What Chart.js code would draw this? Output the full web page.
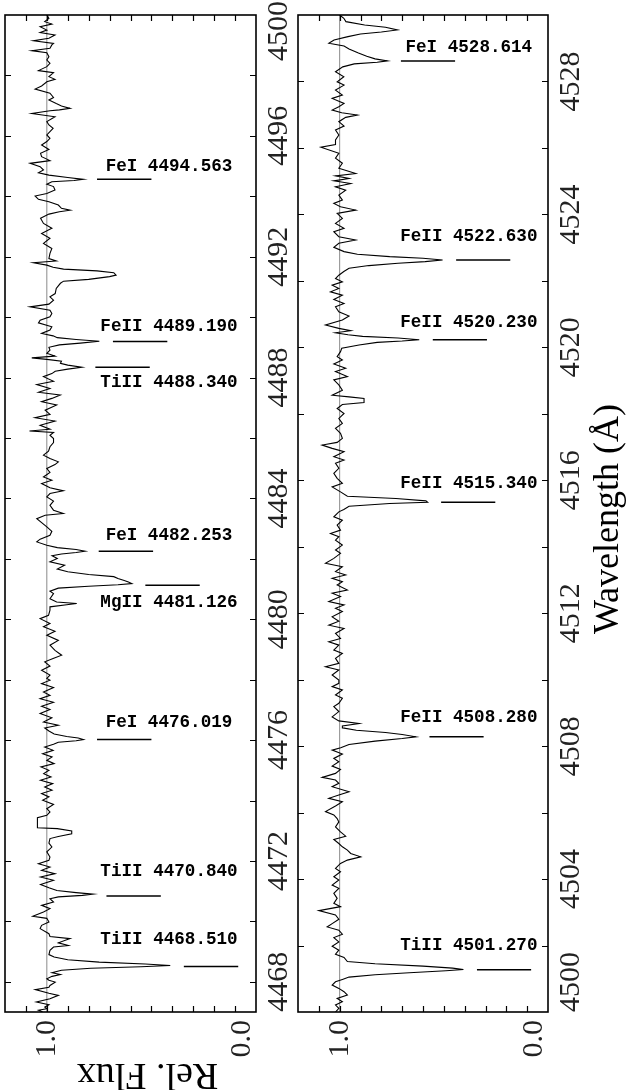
<!DOCTYPE html>
<html>
<head>
<meta charset="utf-8">
<script src="https://cdn.jsdelivr.net/npm/chart.js@4.4.1/dist/chart.umd.min.js"></script>
<style>
  html, body { margin: 0; padding: 0; background: #fff; }
  #wrap { position: relative; width: 627px; height: 1090px; }
  canvas { position: absolute; left: 0; top: 0; }
</style>
</head>
<body>
<div id="wrap">
  <canvas id="panelA" width="627" height="1090"></canvas>
  <canvas id="panelB" width="627" height="1090"></canvas>
</div>
<script>
// left panel: 4467 - 4500 A
const wavesA = [
  4467.00, 4467.06, 4467.11, 4467.16, 4467.24, 4467.33, 4467.44, 4467.55, 4467.62, 4467.74,
  4467.82, 4467.88, 4467.99, 4468.05, 4468.10, 4468.18, 4468.24, 4468.30, 4468.38, 4468.45,
  4468.50, 4468.54, 4468.59, 4468.65, 4468.73, 4468.82, 4468.90, 4469.04, 4469.15, 4469.20,
  4469.29, 4469.43, 4469.50, 4469.59, 4469.76, 4469.87, 4469.98, 4470.10, 4470.17, 4470.31,
  4470.42, 4470.53, 4470.64, 4470.75, 4470.81, 4470.86, 4470.90, 4470.95, 4471.02, 4471.11,
  4471.22, 4471.36, 4471.47, 4471.58, 4471.69, 4471.80, 4471.91, 4472.02, 4472.13, 4472.30,
  4472.46, 4472.59, 4472.74, 4472.81, 4472.90, 4472.99, 4473.07, 4473.10, 4473.43, 4473.51,
  4473.62, 4473.73, 4473.87, 4474.01, 4474.12, 4474.23, 4474.34, 4474.45, 4474.56, 4474.67,
  4474.78, 4474.89, 4475.00, 4475.11, 4475.22, 4475.33, 4475.44, 4475.55, 4475.66, 4475.77,
  4475.86, 4475.93, 4475.98, 4476.02, 4476.07, 4476.12, 4476.20, 4476.30, 4476.40, 4476.49,
  4476.60, 4476.74, 4476.88, 4477.01, 4477.12, 4477.25, 4477.37, 4477.48, 4477.59, 4477.74,
  4477.87, 4477.98, 4478.04, 4478.15, 4478.31, 4478.45, 4478.59, 4478.70, 4478.81, 4478.97,
  4479.14, 4479.30, 4479.47, 4479.60, 4479.75, 4479.86, 4480.02, 4480.13, 4480.30, 4480.41,
  4480.48, 4480.52, 4480.57, 4480.68, 4480.85, 4480.93, 4481.03, 4481.09, 4481.14, 4481.18,
  4481.23, 4481.28, 4481.35, 4481.41, 4481.48, 4481.57, 4481.66, 4481.79, 4481.90, 4482.01,
  4482.10, 4482.16, 4482.21, 4482.25, 4482.31, 4482.37, 4482.45, 4482.56, 4482.65, 4482.78,
  4482.91, 4483.06, 4483.33, 4483.44, 4483.50, 4483.61, 4483.77, 4483.91, 4484.05, 4484.16,
  4484.25, 4484.35, 4484.49, 4484.60, 4484.71, 4484.86, 4484.99, 4485.12, 4485.21, 4485.32,
  4485.43, 4485.56, 4485.71, 4485.85, 4485.98, 4486.09, 4486.18, 4486.23, 4486.29, 4486.42,
  4486.56, 4486.67, 4486.78, 4486.92, 4487.09, 4487.20, 4487.31, 4487.42, 4487.51, 4487.64,
  4487.77, 4487.88, 4488.03, 4488.13, 4488.21, 4488.28, 4488.34, 4488.41, 4488.47, 4488.54,
  4488.60, 4488.65, 4488.71, 4488.80, 4488.91, 4489.00, 4489.08, 4489.14, 4489.20, 4489.26,
  4489.32, 4489.38, 4489.46, 4489.57, 4489.68, 4489.81, 4489.90, 4490.01, 4490.12, 4490.23,
  4490.34, 4490.43, 4490.56, 4490.67, 4490.78, 4490.95, 4491.12, 4491.19, 4491.25, 4491.34,
  4491.39, 4491.47, 4491.53, 4491.59, 4491.65, 4491.72, 4491.80, 4491.86, 4491.94, 4492.11,
  4492.27, 4492.44, 4492.61, 4492.77, 4492.94, 4493.10, 4493.27, 4493.41, 4493.49, 4493.54,
  4493.60, 4493.71, 4493.82, 4493.90, 4494.01, 4494.09, 4494.21, 4494.32, 4494.40, 4494.48,
  4494.52, 4494.56, 4494.62, 4494.70, 4494.78, 4494.87, 4494.98, 4495.09, 4495.18, 4495.31,
  4495.42, 4495.55, 4495.70, 4495.81, 4495.92, 4496.03, 4496.14, 4496.25, 4496.36, 4496.47,
  4496.63, 4496.74, 4496.83, 4496.86, 4496.91, 4496.99, 4497.07, 4497.19, 4497.27, 4497.41,
  4497.55, 4497.65, 4497.79, 4497.87, 4497.96, 4498.09, 4498.16, 4498.29, 4498.40, 4498.51,
  4498.62, 4498.75, 4498.82, 4498.90, 4499.01, 4499.06, 4499.15, 4499.23, 4499.34, 4499.42,
  4499.50, 4499.61, 4499.70, 4499.78, 4499.89, 4500.00
];
const fluxA = [
  1.02, 1.04, 1.00, 1.01, 0.99, 1.05, 0.985, 0.945, 0.99, 1.055,
  0.99, 0.985, 0.96, 0.99, 1.00, 0.975, 0.935, 0.975, 0.93, 0.79,
  0.55, 0.41, 0.53, 0.75, 0.90, 0.965, 0.99, 0.985, 0.968, 0.897,
  0.945, 0.889, 0.985, 0.99, 1.032, 1.025, 0.99, 1.00, 1.067, 1.016,
  0.985, 1.025, 0.968, 0.985, 0.945, 0.83, 0.78, 0.86, 0.952, 0.99,
  1.03, 0.968, 1.03, 0.961, 1.025, 0.985, 1.04, 0.99, 0.985, 1.00,
  0.976, 0.99, 0.985, 0.945, 0.881, 0.881, 0.95, 1.045, 1.045, 1.00,
  0.985, 1.00, 0.968, 1.02, 0.99, 1.025, 0.975, 1.01, 0.972, 1.03,
  0.98, 1.015, 0.99, 1.028, 0.965, 1.00, 0.975, 1.02, 0.97, 1.01,
  0.968, 0.945, 0.86, 0.825, 0.85, 0.905, 0.965, 0.99, 1.01, 0.945,
  1.016, 0.976, 1.032, 0.985, 1.025, 0.968, 1.032, 0.985, 1.016, 0.968,
  1.025, 0.985, 1.00, 0.985, 1.025, 0.985, 1.01, 0.97, 0.929, 0.961,
  0.985, 0.945, 1.00, 0.961, 1.016, 0.985, 1.032, 0.992, 0.985, 0.985,
  0.905, 0.857, 0.953, 0.985, 0.968, 0.985, 0.945, 0.80, 0.66, 0.594,
  0.61, 0.63, 0.66, 0.68, 0.80, 0.90, 0.95, 0.915, 0.985, 0.95,
  0.975, 0.93, 0.86, 0.817, 0.86, 0.95, 1.00, 1.048, 1.032, 0.985,
  0.976, 1.00, 1.048, 1.008, 0.921, 0.968, 0.985, 0.968, 1.00, 0.985,
  0.921, 0.985, 1.025, 0.976, 1.016, 0.985, 1.00, 0.961, 0.945, 0.985,
  1.016, 0.992, 0.985, 0.968, 0.968, 0.985, 0.968, 1.083, 0.985, 1.032,
  0.961, 1.056, 0.985, 1.008, 0.953, 1.025, 0.976, 0.936, 1.04, 0.985,
  1.048, 0.968, 1.016, 0.976, 0.96, 0.90, 0.833, 0.90, 0.935, 0.93,
  1.00, 1.072, 0.961, 1.00, 0.985, 0.99, 0.94, 0.84, 0.749, 0.86,
  0.95, 0.97, 1.025, 0.985, 0.976, 1.04, 1.032, 0.985, 0.976, 0.985,
  1.08, 0.99, 0.968, 0.985, 0.96, 0.955, 0.935, 0.92, 0.80, 0.70,
  0.669, 0.68, 0.76, 0.92, 0.97, 1.00, 1.064, 0.955, 0.99, 0.985,
  0.976, 1.016, 0.985, 1.025, 0.976, 1.016, 1.03, 0.99, 0.94, 0.889,
  0.93, 0.945, 0.99, 1.04, 1.056, 1.00, 0.961, 0.968, 1.00, 0.976,
  0.87, 0.825, 0.90, 0.99, 1.04, 1.016, 1.032, 1.08, 0.985, 1.025,
  1.03, 0.99, 1.025, 1.00, 0.985, 1.00, 0.985, 0.97, 0.99, 1.00,
  0.961, 1.072, 0.985, 0.94, 0.889, 0.93, 0.955, 0.99, 0.968, 0.985,
  1.056, 1.025, 1.00, 0.961, 0.99, 0.968, 1.04, 1.00, 0.985, 1.00,
  0.99, 1.00, 1.072, 0.985, 0.976, 0.968, 1.064, 0.99, 0.961, 1.032,
  1.00, 1.032, 0.976, 1.01, 0.99, 1.00
];

// right panel: 4500 - 4530 A
const wavesB = [
  4500.00, 4500.11, 4500.21, 4500.31, 4500.41, 4500.51, 4500.61, 4500.71, 4500.81, 4500.91,
  4500.98, 4501.05, 4501.12, 4501.18, 4501.24, 4501.28, 4501.32, 4501.38, 4501.45, 4501.52,
  4501.64, 4501.74, 4501.86, 4501.98, 4502.11, 4502.24, 4502.34, 4502.46, 4502.56, 4502.66,
  4502.79, 4502.92, 4503.05, 4503.17, 4503.27, 4503.42, 4503.57, 4503.72, 4503.82, 4503.97,
  4504.07, 4504.22, 4504.32, 4504.47, 4504.57, 4504.67, 4504.77, 4504.87, 4504.97, 4505.07,
  4505.19, 4505.29, 4505.42, 4505.57, 4505.72, 4505.82, 4505.93, 4506.03, 4506.20, 4506.33,
  4506.43, 4506.53, 4506.63, 4506.78, 4506.88, 4506.98, 4507.06, 4507.18, 4507.30, 4507.40,
  4507.53, 4507.63, 4507.76, 4507.88, 4507.95, 4508.05, 4508.15, 4508.23, 4508.28, 4508.35,
  4508.41, 4508.48, 4508.55, 4508.61, 4508.68, 4508.76, 4508.88, 4509.04, 4509.19, 4509.29,
  4509.44, 4509.54, 4509.69, 4509.79, 4509.89, 4509.99, 4510.14, 4510.29, 4510.39, 4510.49,
  4510.64, 4510.79, 4510.89, 4511.04, 4511.14, 4511.24, 4511.39, 4511.54, 4511.64, 4511.76,
  4511.89, 4512.05, 4512.15, 4512.25, 4512.35, 4512.50, 4512.60, 4512.70, 4512.85, 4512.95,
  4513.05, 4513.15, 4513.25, 4513.40, 4513.50, 4513.65, 4513.80, 4513.90, 4514.05, 4514.20,
  4514.30, 4514.40, 4514.50, 4514.65, 4514.80, 4514.90, 4515.05, 4515.12, 4515.22, 4515.30,
  4515.34, 4515.38, 4515.45, 4515.52, 4515.65, 4515.80, 4515.91, 4516.06, 4516.21, 4516.36,
  4516.51, 4516.61, 4516.71, 4516.86, 4516.96, 4517.06, 4517.14, 4517.26, 4517.41, 4517.56,
  4517.71, 4517.86, 4518.01, 4518.16, 4518.28, 4518.34, 4518.46, 4518.51, 4518.56, 4518.71,
  4518.87, 4519.02, 4519.12, 4519.27, 4519.37, 4519.50, 4519.62, 4519.72, 4519.87, 4519.97,
  4520.07, 4520.15, 4520.19, 4520.23, 4520.28, 4520.33, 4520.38, 4520.44, 4520.50, 4520.57,
  4520.67, 4520.82, 4520.94, 4521.07, 4521.22, 4521.32, 4521.44, 4521.57, 4521.67, 4521.77,
  4521.87, 4521.97, 4522.07, 4522.17, 4522.28, 4522.38, 4522.46, 4522.53, 4522.58, 4522.63,
  4522.68, 4522.73, 4522.80, 4522.88, 4523.01, 4523.13, 4523.23, 4523.33, 4523.48, 4523.58,
  4523.73, 4523.88, 4524.03, 4524.13, 4524.23, 4524.33, 4524.43, 4524.58, 4524.73, 4524.83,
  4524.93, 4525.01, 4525.08, 4525.16, 4525.23, 4525.39, 4525.54, 4525.69, 4525.84, 4526.02,
  4526.10, 4526.24, 4526.39, 4526.54, 4526.66, 4526.79, 4526.92, 4526.99, 4527.06, 4527.14,
  4527.24, 4527.34, 4527.49, 4527.59, 4527.74, 4527.89, 4527.99, 4528.14, 4528.29, 4528.44,
  4528.53, 4528.58, 4528.62, 4528.68, 4528.76, 4528.86, 4528.98, 4529.07, 4529.15, 4529.25,
  4529.35, 4529.43, 4529.49, 4529.55, 4529.63, 4529.70, 4529.80, 4529.90, 4530.00
];
const fluxB = [
  1.02, 1.004, 1.02, 0.987, 1.012, 0.963, 0.979, 1.004, 1.036, 1.02,
  0.987, 0.955, 0.83, 0.666, 0.49, 0.406, 0.458, 0.60, 0.83, 0.963,
  0.979, 1.02, 1.004, 1.036, 1.004, 1.028, 0.987, 1.004, 1.06, 1.036,
  1.004, 1.02, 1.10, 0.996, 1.028, 1.012, 1.028, 1.004, 1.036, 1.004,
  1.028, 0.996, 1.02, 0.996, 0.963, 0.899, 0.947, 0.963, 0.987, 1.004,
  1.028, 0.971, 0.996, 1.02, 1.004, 1.012, 1.028, 1.068, 1.02, 0.987,
  1.052, 1.004, 0.955, 1.036, 1.004, 1.02, 1.084, 1.02, 0.996, 1.036,
  1.004, 1.028, 0.987, 1.036, 0.995, 0.955, 0.83, 0.70, 0.634, 0.70,
  0.78, 0.92, 0.985, 0.987, 0.907, 1.004, 1.036, 1.004, 1.028, 1.004,
  0.987, 1.02, 0.987, 1.036, 1.004, 1.004, 1.036, 1.004, 1.068, 1.004,
  1.02, 0.987, 1.028, 1.004, 1.052, 0.996, 1.02, 0.979, 1.052, 1.004,
  1.036, 0.987, 1.02, 0.979, 1.052, 0.996, 1.036, 0.963, 1.012, 0.987,
  1.036, 0.971, 1.02, 0.987, 1.068, 1.028, 0.996, 1.02, 0.987, 1.02,
  1.004, 1.044, 0.996, 1.012, 0.987, 1.028, 1.004, 0.98, 0.955, 0.76,
  0.578, 0.586, 0.73, 0.963, 0.996, 1.036, 0.987, 1.012, 1.028, 1.004,
  1.02, 0.979, 1.028, 0.979, 1.036, 1.084, 1.012, 0.987, 0.996, 1.02,
  0.987, 1.004, 0.979, 1.012, 0.987, 0.883, 0.883, 0.955, 1.036, 0.987,
  1.004, 1.028, 0.963, 1.02, 0.971, 1.028, 0.987, 1.012, 0.996, 0.99,
  0.907, 0.82, 0.70, 0.618, 0.72, 0.89, 0.96, 1.02, 0.947, 1.004,
  1.068, 0.987, 0.955, 1.004, 1.02, 0.979, 1.028, 0.987, 1.044, 1.004,
  1.036, 0.987, 1.02, 1.004, 0.98, 0.955, 0.86, 0.72, 0.59, 0.506,
  0.60, 0.76, 0.915, 0.979, 1.028, 1.004, 0.923, 1.004, 1.028, 0.979,
  1.02, 0.987, 1.012, 0.923, 0.996, 1.028, 0.987, 1.004, 0.971, 1.02,
  0.947, 1.028, 0.955, 1.02, 0.923, 1.004, 0.987, 1.02, 1.004, 1.09,
  1.02, 1.02, 1.004, 1.02, 0.979, 1.004, 0.971, 0.915, 0.99, 1.036,
  1.004, 0.979, 1.036, 0.987, 1.02, 0.979, 1.012, 0.98, 1.02, 0.985,
  0.93, 0.82, 0.771, 0.83, 0.87, 0.91, 0.955, 0.979, 1.052, 1.027,
  0.96, 0.90, 0.80, 0.723, 0.78, 0.88, 0.97, 0.98, 1.00
];

// axis labels
const waveTicksA = [4468, 4472, 4476, 4480, 4484, 4488, 4492, 4496, 4500];
const waveTicksB = [4500, 4504, 4508, 4512, 4516, 4520, 4524, 4528];
const fluxTicks = [1.0, 0.0];
const fluxTickLabels = ['1.0', '0.0'];

// identified lines
const linesA = ['FeI 4494.563', 'FeII 4489.190', 'TiII 4488.340', 'FeI 4482.253',
  'MgII 4481.126', 'FeI 4476.019', 'TiII 4470.840', 'TiII 4468.510'];
const lineWavesA = [4494.563, 4489.190, 4488.340, 4482.253, 4481.126, 4476.019, 4470.840, 4468.510];
const textWavesA = [4494.84, 4489.55, 4487.69, 4482.62, 4480.41, 4476.43, 4471.49, 4469.26];

const linesB = ['FeI 4528.614', 'FeII 4522.630', 'FeII 4520.230', 'FeII 4515.340',
  'FeII 4508.280', 'TiII 4501.270'];
const lineWavesB = [4528.614, 4522.630, 4520.230, 4515.340, 4508.280, 4501.270];
const textWavesB = [4528.90, 4523.21, 4520.62, 4515.78, 4508.73, 4501.88];

const MARK_GAP = 0.065;   // space between line core and marker
const MARK_LEN = 0.26;    // marker length in flux units
const SERIF = '"Liberation Serif", "Times New Roman", serif';

// deepest point of the spectrum near a line
function lineCore(waves, flux, w0) {
    let m = 1;
    waves.forEach((w, i) => {
        if (Math.abs(w - w0) < 0.12 && flux[i] < m) m = flux[i];
    });
    return m;
}

function rotatedText(ctx, text, x, y, angle) {
    ctx.save();
    ctx.translate(x, y);
    ctx.rotate(angle);
    ctx.fillText(text, 0, 0);
    ctx.restore();
}

function decorPlugin(cfg) {
    return {
        id: 'decor',
        afterDraw(chart) {
            const { ctx, chartArea: a, scales: { x, y } } = chart;
            ctx.save();

            // frame
            ctx.strokeStyle = '#000';
            ctx.lineWidth = 1.6;
            ctx.strokeRect(a.left, a.top, a.right - a.left, a.bottom - a.top);

            // inward tick marks on all four sides
            ctx.lineWidth = 1.2;
            ctx.beginPath();
            for (let w = Math.floor(y.min / 2) * 2 + 2; w < y.max; w += 2) {
                const py = Math.round(y.getPixelForValue(w)) + 0.5;
                ctx.moveTo(a.left, py); ctx.lineTo(a.left + 6, py);
                ctx.moveTo(a.right, py); ctx.lineTo(a.right - 6, py);
            }
            for (let k = 1; k < 12; k++) {
                const px = Math.round(x.getPixelForValue(k / 10)) + 0.5;
                ctx.moveTo(px, a.top); ctx.lineTo(px, a.top + 6);
                ctx.moveTo(px, a.bottom); ctx.lineTo(px, a.bottom - 6);
            }
            ctx.stroke();

            // wavelength labels, read bottom to top
            ctx.fillStyle = '#222';
            ctx.font = '30px ' + SERIF;
            ctx.textAlign = 'center';
            ctx.textBaseline = 'alphabetic';
            cfg.waveTicks.forEach(w => {
                const label = String(w);
                const len = ctx.measureText(label).width;
                let cy = y.getPixelForValue(w);
                if (w === y.min) cy -= len / 2;           // keep inside the panel
                if (cy - len / 2 < 1) cy = 1 + len / 2;   // keep inside the page
                rotatedText(ctx, label, a.right + 31, cy, -Math.PI / 2);
            });

            // flux labels
            ctx.textAlign = 'right';
            ctx.textBaseline = 'middle';
            fluxTicks.forEach((f, i) => {
                let cx = x.getPixelForValue(f);
                if (cx + 10 > a.right) cx = a.right - 13.5;
                rotatedText(ctx, fluxTickLabels[i], cx, a.bottom + 8, -Math.PI / 2);
            });

            // line identifications
            ctx.fillStyle = '#000';
            ctx.font = 'bold 17.6px "Liberation Mono", "Courier New", monospace';
            ctx.textAlign = 'center';
            ctx.textBaseline = 'alphabetic';
            cfg.lines.forEach((name, i) => {
                ctx.fillText(name, x.getPixelForValue(cfg.labelFlux), y.getPixelForValue(cfg.textWaves[i]));
            });

            // axis titles
            if (cfg.fluxTitle) {
                ctx.font = '38px ' + SERIF;
                ctx.textAlign = 'center';
                rotatedText(ctx, cfg.fluxTitle, 147.5, a.bottom + 51.5, Math.PI);
            }
            if (cfg.waveTitle) {
                ctx.font = '36px ' + SERIF;
                ctx.textAlign = 'center';
                rotatedText(ctx, cfg.waveTitle, a.right + 70, 519, -Math.PI / 2);
            }
            ctx.restore();
        }
    };
}

function makePanel(canvasId, cfg) {
    const markers = cfg.lineWaves.map(w0 => {
        const top = lineCore(cfg.waves, cfg.flux, w0) - MARK_GAP;
        return {
            data: [{ x: top, y: w0 }, { x: top - MARK_LEN, y: w0 }],
            showLine: true, borderColor: '#000', borderWidth: 1.5,
            pointRadius: 0, order: 1
        };
    });

    new Chart(document.getElementById(canvasId), {
        type: 'scatter',
        data: {
            datasets: [
                {
                    data: cfg.waves.map((w, i) => ({ x: cfg.flux[i], y: w })),
                    showLine: true, borderColor: '#000', borderWidth: 1.1,
                    pointRadius: 0, tension: 0, order: 0
                },
                {
                    data: [{ x: 1, y: cfg.waveMin }, { x: 1, y: cfg.waveMax }],
                    showLine: true, borderColor: '#8a8a8a', borderWidth: 1,
                    pointRadius: 0, order: 2
                },
                ...markers
            ]
        },
        options: {
            responsive: false,
            animation: false,
            devicePixelRatio: 1,
            layout: { padding: cfg.padding },
            scales: {
                x: { type: 'linear', min: 0, max: 1.2, reverse: true, display: false },
                y: { type: 'linear', min: cfg.waveMin, max: cfg.waveMax, display: false }
            },
            plugins: { legend: { display: false }, tooltip: { enabled: false } }
        },
        plugins: [decorPlugin(cfg)]
    });
}

makePanel('panelA', {
    waves: wavesA, flux: fluxA, waveMin: 4467, waveMax: 4500,
    waveTicks: waveTicksA, lines: linesA, lineWaves: lineWavesA, textWaves: textWavesA,
    labelFlux: 0.416, fluxTitle: 'Rel. Flux',
    padding: { left: 5, top: 15, right: 371, bottom: 78 }
});

makePanel('panelB', {
    waves: wavesB, flux: fluxB, waveMin: 4500, waveMax: 4530,
    waveTicks: waveTicksB, lines: linesB, lineWaves: lineWavesB, textWaves: textWavesB,
    labelFlux: 0.38, waveTitle: 'Wavelength (Å)',
    padding: { left: 298, top: 15, right: 79, bottom: 78 }
});
</script>
</body>
</html>
